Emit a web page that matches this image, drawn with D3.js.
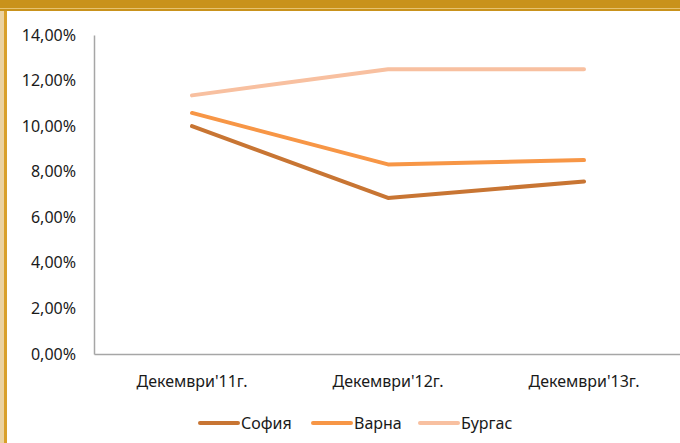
<!DOCTYPE html>
<html><head><meta charset="utf-8">
<script src="https://cdn.jsdelivr.net/npm/d3@7"></script>
<style>body{margin:0;background:#fff}svg{display:block}</style>
</head><body>
<script>
const categories = ["Декември'11г.", "Декември'12г.", "Декември'13г."];
const seriesNames = ["София", "Варна", "Бургас"];
const sofia = [0.100, 0.0685, 0.0757];
const varna = [0.1058, 0.0832, 0.0851];
const burgas = [0.1135, 0.125, 0.125];
const yTicks = [0, 0.02, 0.04, 0.06, 0.08, 0.10, 0.12, 0.14];
const colors = ["#C87533", "#F79646", "#F8C0A0"];
const seriesValues = [sofia, varna, burgas];

const W = 680, H = 443;
const svg = d3.select("body").append("svg").attr("width", W).attr("height", H);
svg.append("rect").attr("width", W).attr("height", H).attr("fill", "#fff");
// frame
svg.append("rect").attr("x", 0).attr("y", 0).attr("width", W).attr("height", 11).attr("fill", "#C9921B");
svg.append("rect").attr("x", 0).attr("y", 8).attr("width", W).attr("height", 1).attr("fill", "#E6C270");
svg.append("rect").attr("x", 0).attr("y", 11).attr("width", 4).attr("height", H - 11).attr("fill", "#EBD2A0");
svg.append("rect").attr("x", 4).attr("y", 11).attr("width", 3).attr("height", H - 11).attr("fill", "#D9A02A");

const x = d3.scaleBand().domain(categories).range([94, 682]);
const y = d3.scaleLinear().domain([0, 0.14]).range([354, 35]);
const font = "'Noto Sans', sans-serif";
const fs = 16;

const yAxis = svg.append("g").attr("transform", "translate(94,0)")
  .call(d3.axisLeft(y).tickValues(yTicks).tickSize(0).tickPadding(18)
    .tickFormat(d => d3.format(".2f")(d * 100).replace(".", ",") + "%"));
yAxis.select(".domain").attr("stroke", "#A6A6A6").attr("stroke-width", 1.5);
yAxis.selectAll("text").attr("font-family", font).attr("font-size", fs).attr("fill", "#1a1a1a");

const xAxis = svg.append("g").attr("transform", "translate(0,354)")
  .call(d3.axisBottom(x).tickSize(0).tickPadding(22));
xAxis.select(".domain").attr("stroke", "#A6A6A6").attr("stroke-width", 1.5);
xAxis.selectAll("text").attr("font-family", font).attr("font-size", fs).attr("fill", "#1a1a1a");

const line = d3.line().x((d, i) => x(categories[i]) + x.bandwidth() / 2).y(d => y(d));
seriesValues.forEach((vals, k) => {
  svg.append("path").datum(vals).attr("d", line).attr("fill", "none")
    .attr("stroke", colors[k]).attr("stroke-width", 4).attr("stroke-linecap", "round").attr("stroke-linejoin", "round");
});

// legend
const legendX = [200, 313, 420];
const lg = svg.append("g");
seriesNames.forEach((n, k) => {
  lg.append("line").attr("x1", legendX[k]).attr("x2", legendX[k] + 38).attr("y1", 423).attr("y2", 423)
    .attr("stroke", colors[k]).attr("stroke-width", 4).attr("stroke-linecap", "round");
  lg.append("text").attr("x", legendX[k] + 41).attr("y", 423).attr("dy", "0.35em")
    .attr("font-family", font).attr("font-size", fs).attr("fill", "#1a1a1a").text(n);
});
</script>
</body></html>
